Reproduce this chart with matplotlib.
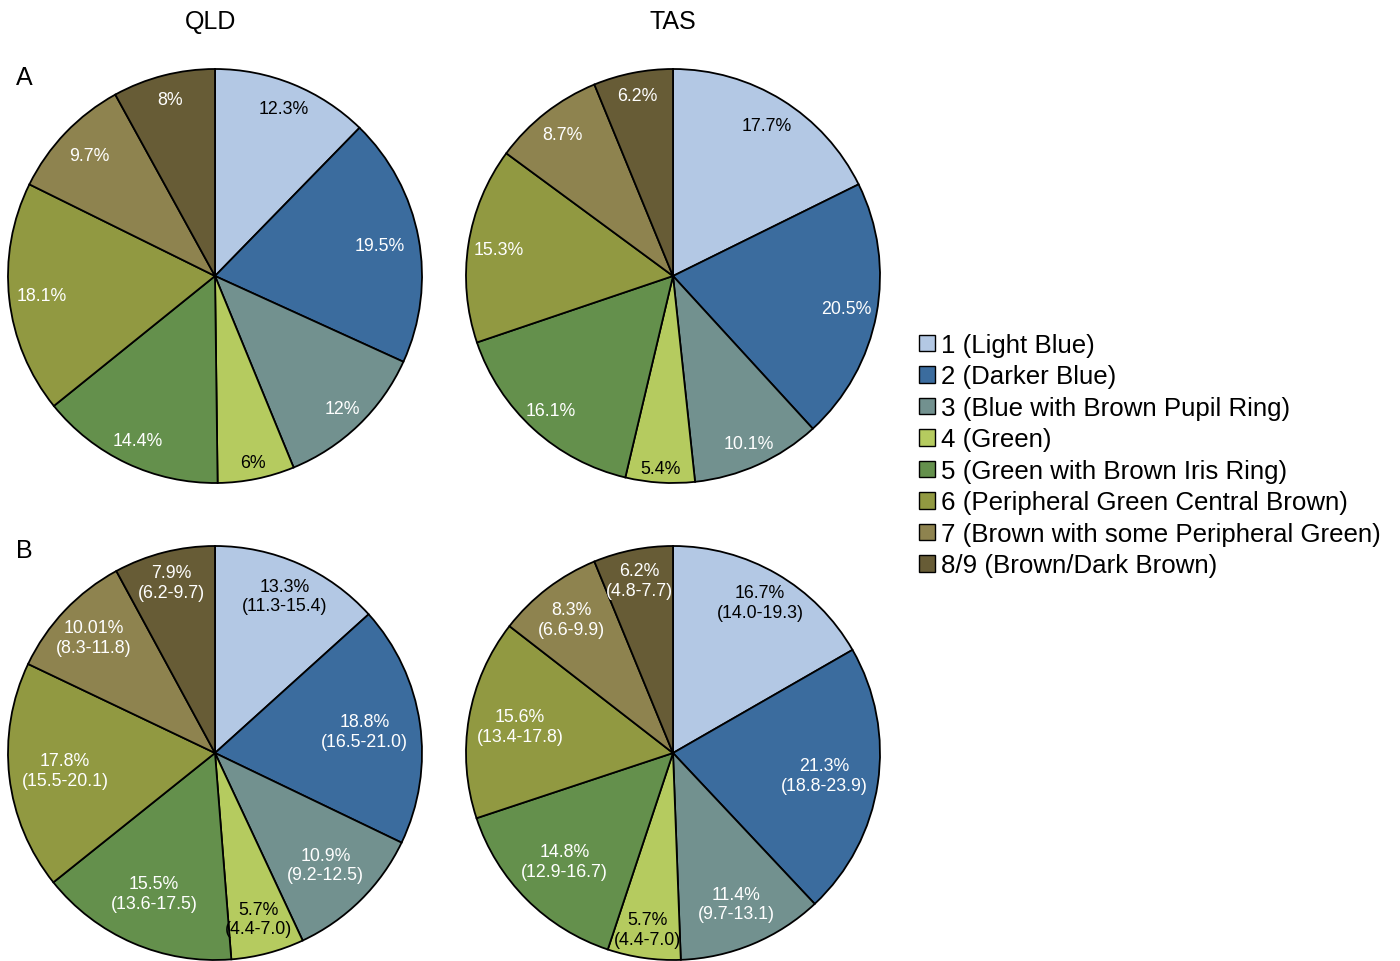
import matplotlib
matplotlib.use("Agg")
import matplotlib.pyplot as plt
import numpy as np
from matplotlib.patches import Patch

plt.rcParams['font.family'] = ['Liberation Sans', 'DejaVu Sans']

categories = ["1 (Light Blue)", "2 (Darker Blue)", "3 (Blue with Brown Pupil Ring)",
              "4 (Green)", "5 (Green with Brown Iris Ring)",
              "6 (Peripheral Green Central Brown)", "7 (Brown with some Peripheral Green)",
              "8/9 (Brown/Dark Brown)"]
colors = ["#b3c8e4", "#3b6c9e", "#72918f", "#b5cb5f", "#64904c", "#919941", "#8e834f", "#675c36"]
text_colors = ["black", "white", "white", "black", "white", "white", "white", "white"]

qld_a = [12.3, 19.5, 12.0, 6.0, 14.4, 18.1, 9.7, 8.0]
qld_a_labels = ["12.3%", "19.5%", "12%", "6%", "14.4%", "18.1%", "9.7%", "8%"]
tas_a = [17.7, 20.5, 10.1, 5.4, 16.1, 15.3, 8.7, 6.2]
tas_a_labels = ["17.7%", "20.5%", "10.1%", "5.4%", "16.1%", "15.3%", "8.7%", "6.2%"]

qld_b = [13.3, 18.8, 10.9, 5.7, 15.5, 17.8, 10.01, 7.9]
qld_b_ci = ["11.3-15.4", "16.5-21.0", "9.2-12.5", "4.4-7.0", "13.6-17.5", "15.5-20.1", "8.3-11.8", "6.2-9.7"]
qld_b_labels = ["13.3%", "18.8%", "10.9%", "5.7%", "15.5%", "17.8%", "10.01%", "7.9%"]
tas_b = [16.7, 21.3, 11.4, 5.7, 14.8, 15.6, 8.3, 6.2]
tas_b_ci = ["14.0-19.3", "18.8-23.9", "9.7-13.1", "4.4-7.0", "12.9-16.7", "13.4-17.8", "6.6-9.9", "4.8-7.7"]
tas_b_labels = ["16.7%", "21.3%", "11.4%", "5.7%", "14.8%", "15.6%", "8.3%", "6.2%"]

# label radial distances (style)
dist_qld_a = [0.875, 0.81, 0.89, 0.92, 0.88, 0.84, 0.84, 0.88]
dist_tas_a = [0.855, 0.85, 0.89, 0.93, 0.88, 0.85, 0.87, 0.89]
dist_qld_b = [0.83, 0.73, 0.76, 0.83, 0.74, 0.73, 0.81, 0.85]
dist_tas_b = [0.84, 0.74, 0.79, 0.86, 0.74, 0.75, 0.81, 0.85]

W, H = 1400, 962
fig = plt.figure(figsize=(W / 100, H / 100), dpi=100)

R = 207.0
box = 424.0


def make_ax(cx, cy):
    ax = fig.add_axes([(cx - box / 2) / W, 1 - (cy + box / 2) / H, box / W, box / H])
    return ax


def draw(ax, vals, labels, dists):
    wedges, _ = ax.pie(vals, colors=colors, startangle=90, counterclock=False,
                       wedgeprops=dict(edgecolor='black', linewidth=1.3), radius=1.0)
    for w, lab, d, tc in zip(wedges, labels, dists, text_colors):
        ang = np.deg2rad((w.theta1 + w.theta2) / 2)
        ax.text(d * np.cos(ang), d * np.sin(ang), lab, ha='center', va='center',
                color=tc, fontsize=12.8, linespacing=1.2)
    lim = box / 2 / R
    ax.set_xlim(-lim, lim)
    ax.set_ylim(-lim, lim)
    ax.set_aspect('equal')
    ax.axis('off')


ax1 = make_ax(215, 277)
draw(ax1, qld_a, qld_a_labels, dist_qld_a)
ax2 = make_ax(673, 277)
draw(ax2, tas_a, tas_a_labels, dist_tas_a)
ax3 = make_ax(215, 754)
draw(ax3, qld_b, [f"{p}\n({c})" for p, c in zip(qld_b_labels, qld_b_ci)], dist_qld_b)
ax4 = make_ax(673, 754)
draw(ax4, tas_b, [f"{p}\n({c})" for p, c in zip(tas_b_labels, tas_b_ci)], dist_tas_b)

fig.text(211 / W, 1 - 22 / H, "QLD", ha='center', va='center', fontsize=18)
fig.text(673 / W, 1 - 22 / H, "TAS", ha='center', va='center', fontsize=18)
fig.text(24 / W, 1 - 78 / H, "A", ha='center', va='center', fontsize=18)
fig.text(24 / W, 1 - 551 / H, "B", ha='center', va='center', fontsize=18)

handles = [Patch(facecolor=c, edgecolor='black', linewidth=1.0) for c in colors]
fig.legend(handles, categories, loc='upper left', bbox_to_anchor=(919 / W, 1 - 334 / H),
           frameon=False, fontsize=18.6, handlelength=0.6, handleheight=0.6,
           handletextpad=0.25, labelspacing=0.29, borderpad=0, borderaxespad=0)

fig.savefig("out.png", dpi=100)
